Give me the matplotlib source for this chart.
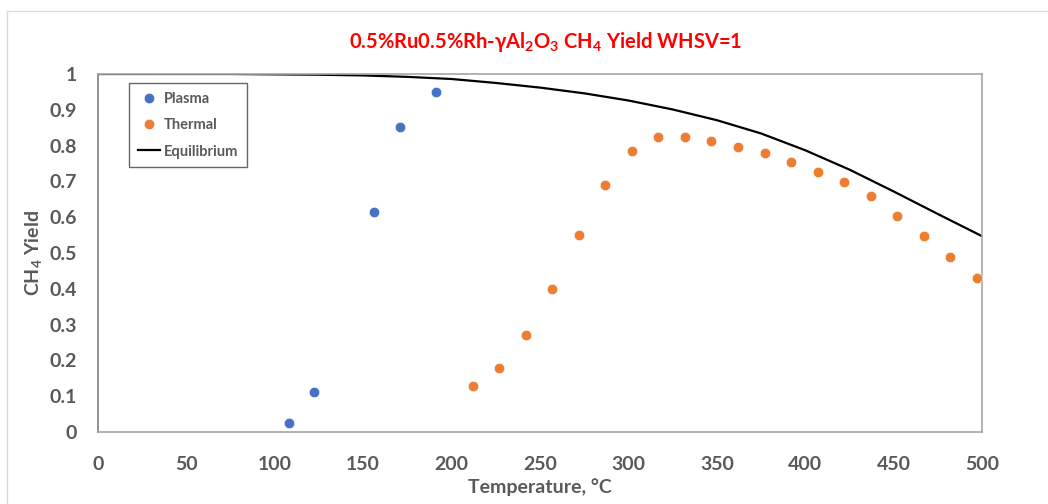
import numpy as np
import matplotlib
matplotlib.use("Agg")
import matplotlib.pyplot as plt
from matplotlib.patches import Rectangle

plt.rcParams["font.family"] = ["Lato", "DejaVu Sans"]
plt.rcParams["mathtext.fontset"] = "custom"
plt.rcParams["mathtext.rm"] = "Lato:bold"
plt.rcParams["mathtext.default"] = "rm"

# data
plasma_temp = [108, 122, 156, 171, 191]
plasma_yield = [0.025, 0.113, 0.614, 0.851, 0.950]

thermal_temp = [212, 227, 242, 257, 272, 287, 302, 317, 332, 347,
                362, 377, 392, 407, 422, 437, 452, 467, 482, 497]
thermal_yield = [0.128, 0.180, 0.270, 0.399, 0.551, 0.691, 0.785, 0.824, 0.825, 0.814,
                 0.797, 0.778, 0.755, 0.727, 0.697, 0.659, 0.604, 0.547, 0.490, 0.431]

eq_temp = [0, 25, 50, 75, 100, 125, 150, 175, 200, 225, 250, 275, 300,
           325, 350, 375, 400, 425, 450, 475, 500]
eq_yield = [1.0, 1.0, 1.0, 1.0, 0.999, 0.998, 0.996, 0.992, 0.986, 0.975, 0.962,
            0.946, 0.926, 0.901, 0.871, 0.834, 0.787, 0.733, 0.672, 0.609, 0.547]

x_ticks = [0, 50, 100, 150, 200, 250, 300, 350, 400, 450, 500]
y_ticks = [0, 0.1, 0.2, 0.3, 0.4, 0.5, 0.6, 0.7, 0.8, 0.9, 1]
y_tick_labels = ["0", "0.1", "0.2", "0.3", "0.4", "0.5", "0.6", "0.7", "0.8", "0.9", "1"]

BLUE = "#4472C4"
ORANGE = "#ED7D31"
GREY_TXT = "#595959"

fig = plt.figure(figsize=(10.48, 5.04), dpi=100)
ax = fig.add_axes([98 / 1048, 72 / 504, 884 / 1048, 358 / 504])

# outer chart border
fig.patches.append(Rectangle((7 / 1048, -0.1), 1.2, (504 - 11) / 504 + 0.1,
                             transform=fig.transFigure, fill=False,
                             edgecolor="#d9d9d9", linewidth=1.0))

ax.plot(plasma_temp, plasma_yield, "o", color=BLUE, markersize=7.5,
        markeredgecolor="white", markeredgewidth=0.4, label="Plasma", zorder=3)
ax.plot(thermal_temp, thermal_yield, "o", color=ORANGE, markersize=7.5,
        markeredgecolor="white", markeredgewidth=0.4, label="Thermal", zorder=3)
ax.plot(eq_temp, eq_yield, "-", color="black", linewidth=1.6,
        label="Equilibrium", zorder=2)

ax.set_xlim(0, 500)
ax.set_ylim(0, 1)
ax.set_xticks(x_ticks)
ax.set_yticks(y_ticks)
ax.set_yticklabels(y_tick_labels)
ax.tick_params(length=0, labelsize=14, labelcolor=GREY_TXT)
ax.tick_params(axis="y", pad=15)
ax.tick_params(axis="x", pad=17)
for lbl in ax.get_xticklabels() + ax.get_yticklabels():
    lbl.set_fontweight("bold")

for s in ax.spines.values():
    s.set_color("#a6a6a6")
    s.set_linewidth(1.2)
ax.spines["left"].set_color("#7f7f7f")

ax.set_xlabel("Temperature, °C", fontsize=14, fontweight="bold",
              color=GREY_TXT, labelpad=4)
ax.set_ylabel("CH$_4$ Yield", fontsize=14, fontweight="bold",
              color=GREY_TXT, labelpad=4)

fig.text(546 / 1048, 1 - 42 / 504,
         "0.5%Ru0.5%Rh-γAl$_2$O$_3$ CH$_4$ Yield WHSV=1",
         ha="center", va="center", fontsize=14.5, fontweight="bold", color="#FF0000")

leg = ax.legend(loc="upper left", bbox_to_anchor=(31 / 884, 1 - 9 / 358),
                fontsize=10.5, frameon=True, fancybox=False,
                handlelength=1.5, handletextpad=0.3, labelspacing=0.85,
                borderpad=0.6, borderaxespad=0)
leg.get_frame().set_edgecolor("#404040")
leg.get_frame().set_linewidth(1.0)
for t in leg.get_texts():
    t.set_color(GREY_TXT)
    t.set_fontweight("bold")

fig.savefig("out.png", dpi=100)
